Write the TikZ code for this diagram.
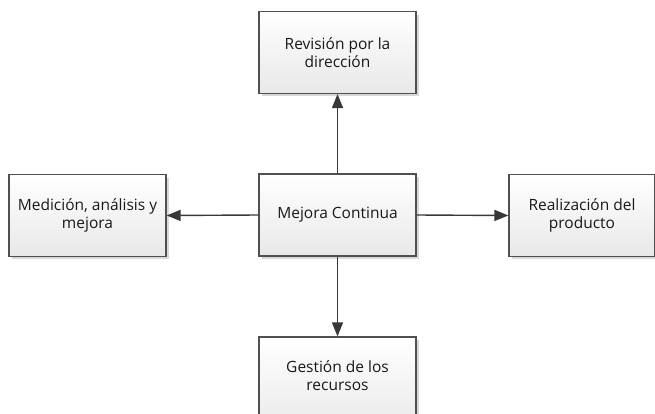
\documentclass[tikz,border=0pt]{standalone}
\usepackage{fontspec}
\setmainfont{Open Sans}
\usetikzlibrary{arrows.meta}
\definecolor{bordc}{HTML}{505050}
\definecolor{linec}{HTML}{383838}
\definecolor{shadc}{HTML}{D8D8D8}
\begin{document}
\begin{tikzpicture}[x=1pt,y=-1pt,
  box/.style={draw=bordc, line width=1.2pt, top color=white, bottom color=black!9,
    minimum width=157pt, minimum height=82pt, inner sep=0pt, align=center,
    font=\fontsize{15.5}{18}\selectfont, text=black!90},
  conn/.style={draw=linec, line width=1.4pt, -{Triangle[length=14pt,width=11pt]}}]
\useasboundingbox (0,0) rectangle (655,414);
\begin{scope}
\clip (0,0) rectangle (655,414);
% shadows
\foreach \x/\y/\w/\h in {259/12/157/81, 9/175/157/81, 259/174/157/82, 509/175/146/81, 259/337/157/100}
  \fill[shadc] (\x+3,\y+3) rectangle (\x+\w+3,\y+\h+3);
\node[box] (top) at (337.5,52.5) {Revisión por la\\dirección};
\node[box] (left) at (87.5,215.5) {Medición, análisis y\\mejora};
\node[box] (mid) at (337.5,215) {Mejora Continua};
\node[box, minimum width=146pt] (right) at (582,215.5) {Realización del\\producto};
\node[box, minimum height=100pt, text depth=0pt] (bot) at (337.5,387) {};
\node[font=\fontsize{15.5}{18}\selectfont, text=black!90, align=center] (bott) at (337.5,376) {Gestión de los\\recursos};
\end{scope}
\draw[conn] (mid.north) -- (top.south);
\draw[conn] (mid.west) -- (left.east);
\draw[conn] (mid.east) -- (right.west);
\draw[conn] (mid.south) -- (bot.north);
\end{tikzpicture}
\end{document}
